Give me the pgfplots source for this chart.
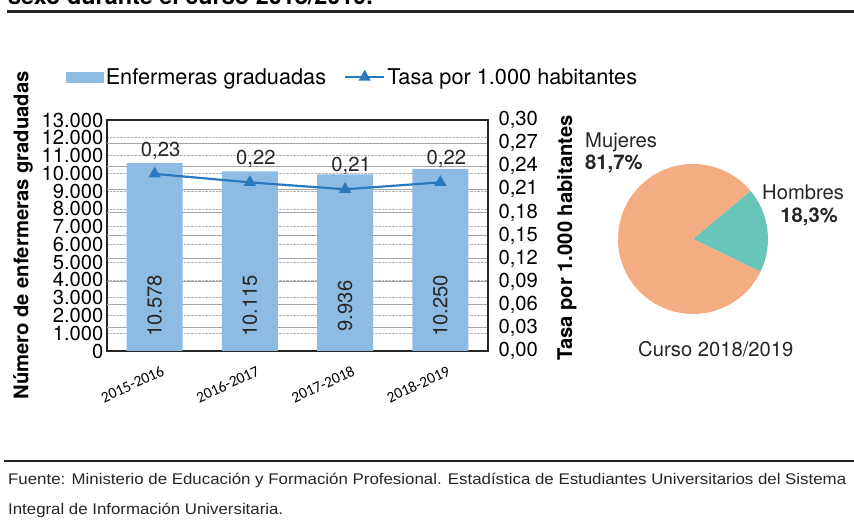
\documentclass[border=0pt]{standalone}
\usepackage{pgfplots}
\pgfplotsset{compat=1.18}
\usepackage{fontspec}
\setmainfont{TeX Gyre Heros}
\newfontfamily\calfont{Carlito}
\newfontfamily\footfont{Liberation Sans}
\definecolor{barblue}{HTML}{8DBBE2}
\definecolor{lineblue}{HTML}{2A79BF}
\definecolor{piesalmon}{HTML}{F4AD83}
\definecolor{piegreen}{HTML}{68C6B9}
\definecolor{rulegray}{HTML}{222222}
\pgfplotsset{/pgf/number format/assume math mode=true}
\newcommand{\bigf}{\fontsize{20.3}{22}\selectfont}
\newcommand{\legf}{\fontsize{21.8}{24}\selectfont}
\begin{document}
\begin{tikzpicture}[x=1bp,y=1bp]
\useasboundingbox (0,0) rectangle (854,527);
% clipped title and top rule
\begin{scope}
\clip (0,500) rectangle (854,527);
\node[anchor=base west, inner sep=0, font=\bfseries\fontsize{23.5}{26}\selectfont] at (8,522) {sexo durante el curso 2018/2019.};
\end{scope}
\draw[rulegray, line width=2.5bp] (7,515.5) -- (854,515.5);

\begin{axis}[
  at={(107bp,176bp)}, anchor=south west,
  scale only axis, width=381bp, height=231bp,
  xmin=-0.5, xmax=3.5, ymin=0, ymax=13000,
  xtick={0,1,2,3},
  xticklabels={2015-2016,2016-2017,2017-2018,2018-2019},
  x tick label style={font=\calfont\fontsize{15.5}{17}\selectfont, rotate=25, anchor=north east, xshift=3bp, yshift=-12bp},
  ytick={0,1000,2000,3000,4000,5000,6000,7000,8000,9000,10000,11000,12000,13000},
  scaled y ticks=false,
  y tick label style={font=\bigf, /pgf/number format/1000 sep={.}},
  extra y ticks={1300,2600,3900,5200,6500,7800,9100,10400,11700},
  extra y tick labels={},
  extra y tick style={grid=major, major grid style={solid, draw=black!35, line width=0.8bp}},
  major tick length=0,
  ymajorgrids,
  major grid style={densely dotted, draw=black!30, line width=0.6bp},
  axis line style={line width=1.3bp, draw=black!85},
  ylabel={\bfseries Número de enfermeras graduadas},
  every axis y label/.style={at={(axis description cs:-0.2205,0.5)}, rotate=90, anchor=center, font=\bigf},
]
\addplot[ybar, bar width=56bp, fill=barblue, draw=none] coordinates {(0,10578) (1,10115) (2,9936) (3,10250)};
\addplot[draw=none, mark=none, nodes near coords, point meta=explicit symbolic,
  every node near coord/.style={rotate=90, anchor=center, font=\bigf, text=black!85}]
  coordinates {(0,2532)[10.578] (1,2532)[10.115] (2,2532)[9.936] (3,2532)[10.250]};
\end{axis}

\begin{axis}[
  at={(107bp,176bp)}, anchor=south west,
  scale only axis, width=381bp, height=231bp,
  xmin=-0.5, xmax=3.5, ymin=0, ymax=0.30,
  axis x line=none, axis y line*=right,
  ytick={0,0.03,0.06,0.09,0.12,0.15,0.18,0.21,0.24,0.27,0.30},
  scaled y ticks=false,
  y tick label style={font=\bigf, xshift=7bp, /pgf/number format/.cd, fixed, fixed zerofill, precision=2, use comma},
  major tick length=0,
  axis line style={line width=1.3bp, draw=black!85},
  ylabel={\bfseries Tasa por 1.000 habitantes},
  every axis y label/.style={at={(axis description cs:1.207,0.49)}, rotate=90, anchor=center, font=\bigf},
  legend columns=-1,
  legend style={draw=none, fill=none, font=\legf, at={(axis description cs:0.645,1.186)}, anchor=center,
    /tikz/every even column/.append style={column sep=16bp}},
]
\addlegendimage{legend image code/.code={\fill[barblue] (0bp,-5bp) rectangle (37bp,5bp);}}
\addlegendentry{Enfermeras graduadas}
\addplot[lineblue, line width=2.2bp, mark=triangle*, mark size=5bp,
  nodes near coords={\pgfmathprintnumber[fixed,fixed zerofill,precision=2,use comma]{\pgfplotspointmeta}},
  every node near coord/.style={anchor=south, font=\bigf, text=black!85, xshift=6bp, yshift=10bp},
  legend image code/.code={\draw[lineblue, line width=2.2bp] (0bp,0bp) -- (39bp,0bp); \fill[lineblue] (19.5bp,0bp) ++(90:5bp) -- ++(-120:8.66bp) -- ++(0:8.66bp) -- cycle;}]
  coordinates {(0,0.230) (1,0.219) (2,0.210) (3,0.219)};
\addlegendentry{Tasa por 1.000 habitantes}
\end{axis}

% pie chart: Mujeres 81.7, Hombres 18.3
\pgfmathsetmacro{\hom}{18.3}
\pgfmathsetmacro{\muj}{81.7}
\pgfmathsetmacro{\aA}{40}
\pgfmathsetmacro{\aB}{40-3.6*\hom}
\pgfmathsetmacro{\aC}{\aB-3.6*\muj}
\fill[piegreen] (693,288) -- ++(\aB:75) arc[start angle=\aB, end angle=\aA, radius=75] -- cycle;
\fill[piesalmon] (693,288) -- ++(\aC:75) arc[start angle=\aC, end angle=\aB, radius=75] -- cycle;
\node[anchor=base west, inner sep=0, font=\bigf, text=black!85] at (585,379) {Mujeres};
\node[anchor=base west, inner sep=0, font=\bigf\bfseries, text=black!85] at (585,357) {81,7\%};
\node[anchor=base west, inner sep=0, font=\bigf, text=black!85] at (762,327) {Hombres};
\node[anchor=base east, inner sep=0, font=\bigf\bfseries, text=black!85] at (838,304) {18,3\%};
\node[anchor=base west, inner sep=0, font=\bigf, text=black!85] at (638,170) {Curso 2018/2019};

% footer
\draw[rulegray, line width=2.5bp] (4,66) -- (854,66);
\node[anchor=base west, inner sep=0, text=black!85] at (8,42.5) {\resizebox{838bp}{\height}{\footfont\fontsize{15.5}{17}\selectfont Fuente: Ministerio de Educación y Formación Profesional. Estadística de Estudiantes Universitarios del Sistema}};
\node[anchor=base west, inner sep=0, text=black!85] at (8,12) {\resizebox{275bp}{\height}{\footfont\fontsize{15.5}{17}\selectfont Integral de Información Universitaria.}};
\end{tikzpicture}
\end{document}
